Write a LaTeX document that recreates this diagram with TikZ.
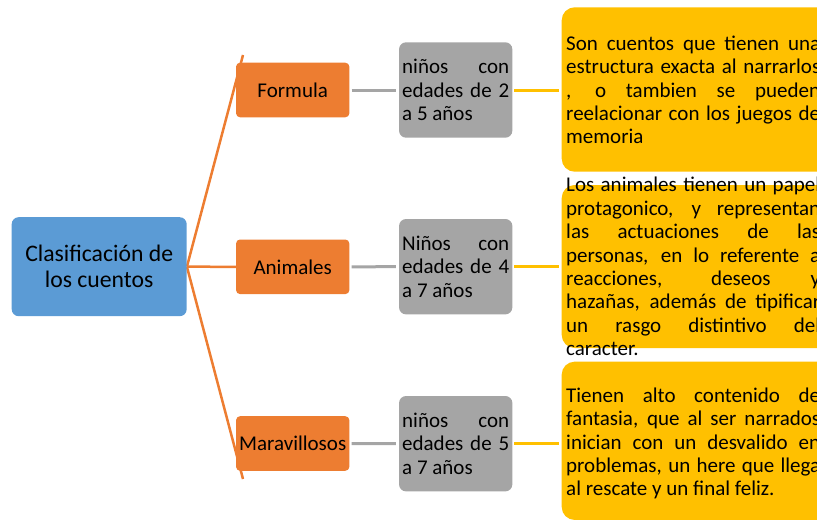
\documentclass[tikz,border=0pt]{standalone}
\usepackage{fontspec}
\setmainfont{Carlito}
\usetikzlibrary{backgrounds}
\definecolor{cblue}{HTML}{5B9BD5}
\definecolor{corange}{HTML}{ED7D31}
\definecolor{cgray}{HTML}{A5A5A5}
\definecolor{cyellow}{HTML}{FFC000}
\newcommand\jl[2]{\makebox[#1][s]{\spaceskip=0pt\xspaceskip=0pt\relax #2}}
\begin{document}
\begin{tikzpicture}[x=1pt,y=-1pt,
  bluebox/.style={fill=cblue, rounded corners=7pt, minimum width=175pt, minimum height=99pt, inner sep=0pt, align=center, font=\fontsize{23.7}{26}\selectfont},
  orangebox/.style={fill=corange, rounded corners=4pt, minimum width=113.3pt, minimum height=54.6pt, inner sep=0pt, align=center, font=\fontsize{21}{24}\selectfont},
  graybox/.style={fill=cgray, rounded corners=7pt, minimum width=113.3pt, minimum height=95.4pt, inner sep=0pt, align=left, font=\fontsize{21}{23.6}\selectfont},
  yellowbox/.style={fill=cyellow, rounded corners=13pt, minimum width=270pt, inner sep=0pt},
  yellowtext/.style={anchor=west, inner sep=0pt, align=left, font=\fontsize{21}{23.4}\selectfont},
  treeline/.style={draw=corange, line width=2.5pt},
  grayline/.style={draw=cgray, line width=3pt, shorten <=2pt, shorten >=3pt},
  yellowline/.style={draw=cyellow, line width=3pt, shorten <=1.5pt, shorten >=3pt}]
\useasboundingbox (0,0) rectangle (817,522);
\clip (0,0) rectangle (817,522);

\node[bluebox] (root) at (99.2,266.7) {Clasificación de\\los cuentos};

\node[orangebox] (o1) at (292.7,90) {Formula};
\node[orangebox] (o2) at (292.7,266.8) {Animales};
\node[orangebox] (o3) at (292.7,443.5) {Maravillosos};

\node[graybox] (g1) at (455.7,90) {\jl{107pt}{niños con}\\\jl{107pt}{edades de 2}\\a 5 años};
\node[graybox] (g2) at (455.7,266.7) {\jl{107pt}{Niños con}\\\jl{107pt}{edades de 4}\\a 7 años};
\node[graybox] (g3) at (455.7,443.7) {\jl{107pt}{niños con}\\\jl{107pt}{edades de 5}\\a 7 años};

\node[yellowbox, minimum height=164.4pt] (y1) at (696.7,89.5) {};
\node[yellowbox, minimum height=163pt] (y2) at (696.7,266.5) {};
\node[yellowbox, minimum height=158.3pt] (y3) at (696.7,440.8) {};

\node[yellowtext] (t1) at (566,90) {\jl{254pt}{Son cuentos que tienen una}\\\jl{254pt}{estructura exacta al narrarlos}\\\jl{254pt}{, o tambien se pueden}\\\jl{254pt}{reelacionar con los juegos de}\\memoria};
\node[yellowtext] (t2) at (566,266.5) {\jl{254pt}{Los animales tienen un papel}\\\jl{254pt}{protagonico, y representan}\\\jl{254pt}{las actuaciones de las}\\\jl{254pt}{personas, en lo referente a}\\\jl{254pt}{reacciones, deseos y}\\\jl{254pt}{hazañas, además de tipificar}\\\jl{254pt}{un rasgo distintivo del}\\caracter.};
\node[yellowtext] (t3) at (566,443.5) {\jl{254pt}{Tienen alto contenido de}\\\jl{254pt}{fantasia, que al ser narrados}\\\jl{254pt}{inician con un desvalido en}\\\jl{254pt}{problemas, un here que llega}\\al rescate y un final feliz.};

\coordinate (top) at (243,55);
\coordinate (bot) at (243,479);
\begin{scope}[on background layer]
\draw[treeline] (root.east) -- (top);
\draw[treeline] (root.east) -- (bot);
\draw[treeline] (root.east) -- (o2.west);
\end{scope}

\draw[grayline] (o1.east) -- (g1.west);
\draw[grayline] (o2.east) -- (g2.west);
\draw[grayline] (o3.east) -- (g3.west);
\draw[yellowline] (g1.east) -- (y1.west |- g1.east);
\draw[yellowline] (g2.east) -- (y2.west |- g2.east);
\draw[yellowline] (g3.east) -- (y3.west |- g3.east);
\end{tikzpicture}
\end{document}
